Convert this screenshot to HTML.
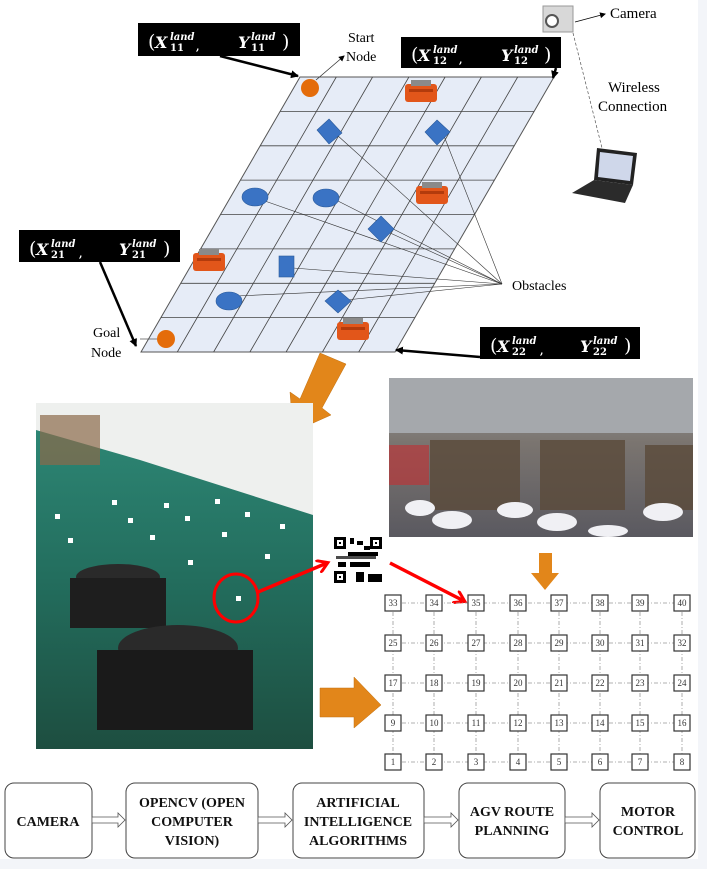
<!DOCTYPE html>
<html><head><meta charset="utf-8"><style>
html,body{margin:0;padding:0;background:#fff;}
body{width:707px;height:869px;overflow:hidden;position:relative;font-family:"Liberation Serif",serif;}
svg{position:absolute;left:0;top:0;}
</style></head><body>
<svg width="707" height="869" viewBox="0 0 707 869" xmlns="http://www.w3.org/2000/svg">
<defs>
<marker id="ah" markerWidth="8" markerHeight="8" refX="7" refY="4" orient="auto" markerUnits="userSpaceOnUse"><path d="M0,0 L8,4 L0,8 z" fill="#000"/></marker>
<marker id="ahs" markerWidth="6" markerHeight="6" refX="5" refY="3" orient="auto" markerUnits="userSpaceOnUse"><path d="M0,0 L6,3 L0,6 z" fill="#000"/></marker>
<marker id="ahr" markerWidth="14" markerHeight="14" refX="10" refY="7" orient="auto" markerUnits="userSpaceOnUse"><path d="M0,0 L11,7 L0,14" fill="none" stroke="#f00" stroke-width="3"/></marker>
<linearGradient id="floor" x1="0" y1="0" x2="0" y2="1"><stop offset="0" stop-color="#2f8a78"/><stop offset="0.5" stop-color="#236e5e"/><stop offset="1" stop-color="#1d4e40"/></linearGradient>
<linearGradient id="wh" x1="0" y1="0" x2="0" y2="1"><stop offset="0" stop-color="#9a9ea3"/><stop offset="0.4" stop-color="#7b7570"/><stop offset="1" stop-color="#5a5960"/></linearGradient>
</defs>
<rect x="698" y="0" width="9" height="869" fill="#f3f5f9"/>
<rect x="0" y="859" width="707" height="10" fill="#f3f5f9"/>

<polygon points="300,77 554,77 395,352 141,352" fill="#e6ecf7" stroke="#555" stroke-width="1"/>
<g stroke="#444" stroke-width="0.8">
<line x1="280.1" y1="111.4" x2="534.1" y2="111.4"/>
<line x1="260.3" y1="145.8" x2="514.3" y2="145.8"/>
<line x1="240.4" y1="180.1" x2="494.4" y2="180.1"/>
<line x1="220.5" y1="214.5" x2="474.5" y2="214.5"/>
<line x1="200.6" y1="248.9" x2="454.6" y2="248.9"/>
<line x1="180.8" y1="283.3" x2="434.8" y2="283.3"/>
<line x1="160.9" y1="317.6" x2="414.9" y2="317.6"/>
<line x1="336.3" y1="77" x2="177.3" y2="352"/>
<line x1="372.6" y1="77" x2="213.6" y2="352"/>
<line x1="408.9" y1="77" x2="249.9" y2="352"/>
<line x1="445.1" y1="77" x2="286.1" y2="352"/>
<line x1="481.4" y1="77" x2="322.4" y2="352"/>
<line x1="517.7" y1="77" x2="358.7" y2="352"/>
</g>
<g stroke="#333" stroke-width="0.6">
<line x1="337" y1="135" x2="502" y2="284"/>
<line x1="444" y1="136" x2="502" y2="284"/>
<line x1="262" y1="200" x2="502" y2="284"/>
<line x1="334" y1="199" x2="502" y2="284"/>
<line x1="388" y1="232" x2="502" y2="284"/>
<line x1="293" y1="268" x2="502" y2="284"/>
<line x1="236" y1="296" x2="502" y2="284"/>
<line x1="346" y1="300" x2="502" y2="284"/>
</g>
<ellipse cx="310" cy="88" rx="9" ry="9" fill="#e46c0a"/>
<ellipse cx="166" cy="339" rx="9" ry="9" fill="#e46c0a"/>
<line x1="140" y1="339" x2="157" y2="339" stroke="#555" stroke-width="0.8"/>
<line x1="316" y1="80" x2="344" y2="56" stroke="#333" stroke-width="0.8" marker-end="url(#ahs)"/>
<g fill="#3a73c4" stroke="#2a5a9a" stroke-width="0.6">
<polygon points="329,119 342,133 329,144 317,130"/>
<polygon points="437,120 450,132 437,145 425,132"/>
<ellipse cx="255" cy="197" rx="13" ry="9"/>
<ellipse cx="326" cy="198" rx="13" ry="9"/>
<polygon points="381,216 394,229 381,242 368,229"/>
<rect x="279" y="256" width="15" height="21"/>
<ellipse cx="229" cy="301" rx="13" ry="9"/>
<polygon points="338,290 351,301 338,313 325,301"/>
</g>
<g>
<g transform="translate(405,80)"><rect x="0" y="4" width="32" height="18" rx="3" fill="#e2561a"/><rect x="6" y="0" width="20" height="6" fill="#8a8a8a"/><rect x="4" y="9" width="24" height="3" fill="#b33b0c"/></g>
<g transform="translate(416,182)"><rect x="0" y="4" width="32" height="18" rx="3" fill="#e2561a"/><rect x="6" y="0" width="20" height="6" fill="#8a8a8a"/><rect x="4" y="9" width="24" height="3" fill="#b33b0c"/></g>
<g transform="translate(193,249)"><rect x="0" y="4" width="32" height="18" rx="3" fill="#e2561a"/><rect x="6" y="0" width="20" height="6" fill="#8a8a8a"/><rect x="4" y="9" width="24" height="3" fill="#b33b0c"/></g>
<g transform="translate(337,318)"><rect x="0" y="4" width="32" height="18" rx="3" fill="#e2561a"/><rect x="6" y="0" width="20" height="6" fill="#8a8a8a"/><rect x="4" y="9" width="24" height="3" fill="#b33b0c"/></g>
</g>
<text x="348" y="42" font-size="14">Start</text>
<text x="346" y="61" font-size="14">Node</text>
<text x="93" y="337" font-size="14">Goal</text>
<text x="91" y="357" font-size="14">Node</text>
<text x="512" y="290" font-size="14">Obstacles</text>
<text x="610" y="18" font-size="15">Camera</text>
<text x="608" y="92" font-size="15">Wireless</text>
<text x="598" y="111" font-size="15">Connection</text>
<g font-family="'DejaVu Serif','Liberation Serif',serif" fill="#fff" font-weight="bold">
<rect x="138" y="23" width="162" height="33" fill="#000"/>
<text x="148" y="48" font-size="19" font-weight="normal">(</text><text x="155" y="48" font-size="16" font-style="italic">X</text><text x="170" y="40" font-size="10" font-style="italic">land</text><text x="170" y="51" font-size="10">11</text><text x="196" y="50" font-size="10">,</text>
<text x="238" y="48" font-size="16" font-style="italic">Y</text><text x="251" y="40" font-size="10" font-style="italic">land</text><text x="251" y="51" font-size="10">11</text><text x="282" y="48" font-size="19" font-weight="normal">)</text>
<rect x="401" y="37" width="160" height="31" fill="#000"/>
<text x="411" y="61" font-size="19" font-weight="normal">(</text><text x="418" y="61" font-size="16" font-style="italic">X</text><text x="433" y="53" font-size="10" font-style="italic">land</text><text x="433" y="64" font-size="10">12</text><text x="459" y="63" font-size="10">,</text>
<text x="501" y="61" font-size="16" font-style="italic">Y</text><text x="514" y="53" font-size="10" font-style="italic">land</text><text x="514" y="64" font-size="10">12</text><text x="544" y="61" font-size="19" font-weight="normal">)</text>
<rect x="19" y="230" width="161" height="32" fill="#000"/>
<text x="29" y="255" font-size="19" font-weight="normal">(</text><text x="36" y="255" font-size="16" font-style="italic">X</text><text x="51" y="247" font-size="10" font-style="italic">land</text><text x="51" y="258" font-size="10">21</text><text x="79" y="257" font-size="10">,</text>
<text x="119" y="255" font-size="16" font-style="italic">Y</text><text x="132" y="247" font-size="10" font-style="italic">land</text><text x="132" y="258" font-size="10">21</text><text x="163" y="255" font-size="19" font-weight="normal">)</text>
<rect x="480" y="327" width="160" height="32" fill="#000"/>
<text x="490" y="352" font-size="19" font-weight="normal">(</text><text x="497" y="352" font-size="16" font-style="italic">X</text><text x="512" y="344" font-size="10" font-style="italic">land</text><text x="512" y="355" font-size="10">22</text><text x="540" y="354" font-size="10">,</text>
<text x="580" y="352" font-size="16" font-style="italic">Y</text><text x="593" y="344" font-size="10" font-style="italic">land</text><text x="593" y="355" font-size="10">22</text><text x="624" y="352" font-size="19" font-weight="normal">)</text>
</g>
<g stroke="#000" stroke-width="2.5">
<line x1="220" y1="56" x2="298" y2="76" marker-end="url(#ah)"/>
<line x1="556" y1="68" x2="553" y2="78" marker-end="url(#ah)"/>
<line x1="100" y1="262" x2="136" y2="346" marker-end="url(#ah)"/>
<line x1="480" y1="357" x2="396" y2="350" marker-end="url(#ah)"/>
</g>
<rect x="543" y="6" width="30" height="26" fill="#d8d8d8" stroke="#999"/>
<circle cx="552" cy="21" r="6" fill="#fff" stroke="#555" stroke-width="2"/>
<line x1="575" y1="22" x2="605" y2="14" stroke="#000" stroke-width="0.8" marker-end="url(#ahs)"/>
<line x1="573" y1="33" x2="602" y2="148" stroke="#555" stroke-width="0.7" stroke-dasharray="3,2"/>
<polygon points="597,148 637,153 633,185 594,180" fill="#222"/>
<polygon points="600,152 633,156 630,181 598,177" fill="#cfd7ea"/>
<polygon points="594,180 633,185 625,203 572,193" fill="#2b2b2b"/>
<!-- orange arrows -->
<polygon points="320,353 346,364 322,408 331,415 293,432 290,392 300,399" fill="#e2861a" stroke="#c07010" stroke-width="0.5"/>
<polygon points="539,553 552,553 552,573 559,573 545,590 531,573 539,573" fill="#e2861a"/>
<polygon points="320,688 354,688 354,677 381,705 354,728 354,717 320,717" fill="#e2861a" stroke="#c07010" stroke-width="0.5"/>
<rect x="36" y="403" width="277" height="346" fill="url(#floor)"/>
<polygon points="36,403 313,403 313,515 140,460 36,430" fill="#eef0ee"/>
<rect x="40" y="415" width="60" height="50" fill="#8b6a4a" opacity="0.7"/>
<g fill="#fff"><rect x="112" y="500" width="5" height="5"/><rect x="164" y="503" width="5" height="5"/><rect x="215" y="499" width="5" height="5"/><rect x="245" y="512" width="5" height="5"/><rect x="68" y="538" width="5" height="5"/><rect x="128" y="518" width="5" height="5"/><rect x="185" y="516" width="5" height="5"/><rect x="280" y="524" width="5" height="5"/><rect x="150" y="535" width="5" height="5"/><rect x="222" y="532" width="5" height="5"/><rect x="265" y="554" width="5" height="5"/><rect x="188" y="560" width="5" height="5"/><rect x="236" y="596" width="5" height="5"/><rect x="55" y="514" width="5" height="5"/></g>
<ellipse cx="118" cy="577" rx="42" ry="13" fill="#2a2a2a"/>
<rect x="70" y="578" width="96" height="50" fill="#1e1e1e"/>
<ellipse cx="178" cy="648" rx="60" ry="23" fill="#2a2a2a"/>
<rect x="97" y="650" width="156" height="80" fill="#1a1a1a"/>
<ellipse cx="236" cy="598" rx="22" ry="24" fill="none" stroke="#f00" stroke-width="3"/>
<rect x="389" y="378" width="304" height="159" fill="url(#wh)"/>
<rect x="389" y="378" width="304" height="55" fill="#a5a8ac"/>
<rect x="430" y="440" width="90" height="70" fill="#5a4a3a" opacity="0.8"/>
<rect x="540" y="440" width="85" height="70" fill="#5a4a3a" opacity="0.8"/>
<rect x="645" y="445" width="48" height="65" fill="#5a4a3a" opacity="0.8"/>
<rect x="389" y="445" width="40" height="40" fill="#b8383a" opacity="0.7"/>
<g fill="#f0f0f4"><ellipse cx="420" cy="508" rx="15" ry="8"/><ellipse cx="452" cy="520" rx="20" ry="9"/><ellipse cx="515" cy="510" rx="18" ry="8"/><ellipse cx="557" cy="522" rx="20" ry="9"/><ellipse cx="663" cy="512" rx="20" ry="9"/><ellipse cx="608" cy="531" rx="20" ry="6"/></g>
<rect x="333" y="536" width="50" height="48" fill="#fff"/>
<g fill="#000"><rect x="334" y="537" width="12" height="12"/><rect x="370" y="537" width="12" height="12"/><rect x="334" y="571" width="12" height="12"/>
<rect x="350" y="538" width="4" height="6"/><rect x="357" y="541" width="6" height="4"/><rect x="348" y="552" width="30" height="4"/><rect x="336" y="556" width="40" height="3" opacity="0.7"/><rect x="350" y="562" width="20" height="5"/><rect x="338" y="562" width="8" height="5"/><rect x="356" y="572" width="8" height="10"/><rect x="368" y="574" width="14" height="8"/><rect x="364" y="546" width="6" height="4"/></g>
<g fill="#fff"><rect x="337" y="540" width="6" height="6"/><rect x="373" y="540" width="6" height="6"/><rect x="337" y="574" width="6" height="6"/></g>
<g fill="#000"><rect x="339" y="542" width="2" height="2"/><rect x="375" y="542" width="2" height="2"/><rect x="339" y="576" width="2" height="2"/></g>
<line x1="258" y1="592" x2="327" y2="563" stroke="#f00" stroke-width="3.5" marker-end="url(#ahr)"/>
<line x1="390" y1="563" x2="464" y2="601" stroke="#f00" stroke-width="3.5" marker-end="url(#ahr)"/>
<g stroke="#999" stroke-width="0.8" stroke-dasharray="4,2,1,2">
<line x1="393" y1="603" x2="682" y2="603"/><line x1="393" y1="643" x2="682" y2="643"/><line x1="393" y1="683" x2="682" y2="683"/><line x1="393" y1="723" x2="682" y2="723"/><line x1="393" y1="762" x2="682" y2="762"/>
<line x1="393" y1="603" x2="393" y2="762"/><line x1="434" y1="603" x2="434" y2="762"/><line x1="476" y1="603" x2="476" y2="762"/><line x1="518" y1="603" x2="518" y2="762"/><line x1="559" y1="603" x2="559" y2="762"/><line x1="600" y1="603" x2="600" y2="762"/><line x1="640" y1="603" x2="640" y2="762"/><line x1="682" y1="603" x2="682" y2="762"/>
</g>
<g fill="#fff" stroke="#333" stroke-width="1.2">
<rect x="385" y="595" width="16" height="16"/><rect x="426" y="595" width="16" height="16"/><rect x="468" y="595" width="16" height="16"/><rect x="510" y="595" width="16" height="16"/><rect x="551" y="595" width="16" height="16"/><rect x="592" y="595" width="16" height="16"/><rect x="632" y="595" width="16" height="16"/><rect x="674" y="595" width="16" height="16"/>
<rect x="385" y="635" width="16" height="16"/><rect x="426" y="635" width="16" height="16"/><rect x="468" y="635" width="16" height="16"/><rect x="510" y="635" width="16" height="16"/><rect x="551" y="635" width="16" height="16"/><rect x="592" y="635" width="16" height="16"/><rect x="632" y="635" width="16" height="16"/><rect x="674" y="635" width="16" height="16"/>
<rect x="385" y="675" width="16" height="16"/><rect x="426" y="675" width="16" height="16"/><rect x="468" y="675" width="16" height="16"/><rect x="510" y="675" width="16" height="16"/><rect x="551" y="675" width="16" height="16"/><rect x="592" y="675" width="16" height="16"/><rect x="632" y="675" width="16" height="16"/><rect x="674" y="675" width="16" height="16"/>
<rect x="385" y="715" width="16" height="16"/><rect x="426" y="715" width="16" height="16"/><rect x="468" y="715" width="16" height="16"/><rect x="510" y="715" width="16" height="16"/><rect x="551" y="715" width="16" height="16"/><rect x="592" y="715" width="16" height="16"/><rect x="632" y="715" width="16" height="16"/><rect x="674" y="715" width="16" height="16"/>
<rect x="385" y="754" width="16" height="16"/><rect x="426" y="754" width="16" height="16"/><rect x="468" y="754" width="16" height="16"/><rect x="510" y="754" width="16" height="16"/><rect x="551" y="754" width="16" height="16"/><rect x="592" y="754" width="16" height="16"/><rect x="632" y="754" width="16" height="16"/><rect x="674" y="754" width="16" height="16"/>
</g>
<g font-size="9" text-anchor="middle" fill="#333">
<text x="393" y="606">33</text><text x="434" y="606">34</text><text x="476" y="606">35</text><text x="518" y="606">36</text><text x="559" y="606">37</text><text x="600" y="606">38</text><text x="640" y="606">39</text><text x="682" y="606">40</text>
<text x="393" y="646">25</text><text x="434" y="646">26</text><text x="476" y="646">27</text><text x="518" y="646">28</text><text x="559" y="646">29</text><text x="600" y="646">30</text><text x="640" y="646">31</text><text x="682" y="646">32</text>
<text x="393" y="686">17</text><text x="434" y="686">18</text><text x="476" y="686">19</text><text x="518" y="686">20</text><text x="559" y="686">21</text><text x="600" y="686">22</text><text x="640" y="686">23</text><text x="682" y="686">24</text>
<text x="393" y="726">9</text><text x="434" y="726">10</text><text x="476" y="726">11</text><text x="518" y="726">12</text><text x="559" y="726">13</text><text x="600" y="726">14</text><text x="640" y="726">15</text><text x="682" y="726">16</text>
<text x="393" y="765">1</text><text x="434" y="765">2</text><text x="476" y="765">3</text><text x="518" y="765">4</text><text x="559" y="765">5</text><text x="600" y="765">6</text><text x="640" y="765">7</text><text x="682" y="765">8</text>
</g>
<g fill="#fff" stroke="#444" stroke-width="1">
<rect x="5" y="783" width="87" height="75" rx="9"/>
<rect x="126" y="783" width="132" height="75" rx="9"/>
<rect x="293" y="783" width="131" height="75" rx="9"/>
<rect x="459" y="783" width="106" height="75" rx="9"/>
<rect x="600" y="783" width="95" height="75" rx="9"/>
</g>
<g fill="#fff" stroke="#555" stroke-width="0.8">
<polygon points="92,817 118,817 118,813 125,820 118,827 118,823 92,823"/>
<polygon points="258,817 285,817 285,813 292,820 285,827 285,823 258,823"/>
<polygon points="424,817 451,817 451,813 458,820 451,827 451,823 424,823"/>
<polygon points="565,817 592,817 592,813 599,820 592,827 592,823 565,823"/>
</g>
<g font-size="14" font-weight="bold" text-anchor="middle" fill="#111">
<text x="48" y="826">CAMERA</text>
<text x="192" y="807">OPENCV (OPEN</text><text x="192" y="826">COMPUTER</text><text x="192" y="845">VISION)</text>
<text x="358" y="807">ARTIFICIAL</text><text x="358" y="826">INTELLIGENCE</text><text x="358" y="845">ALGORITHMS</text>
<text x="512" y="816">AGV ROUTE</text><text x="512" y="835">PLANNING</text>
<text x="648" y="816">MOTOR</text><text x="648" y="835">CONTROL</text>
</g>
</svg>
</body></html>
